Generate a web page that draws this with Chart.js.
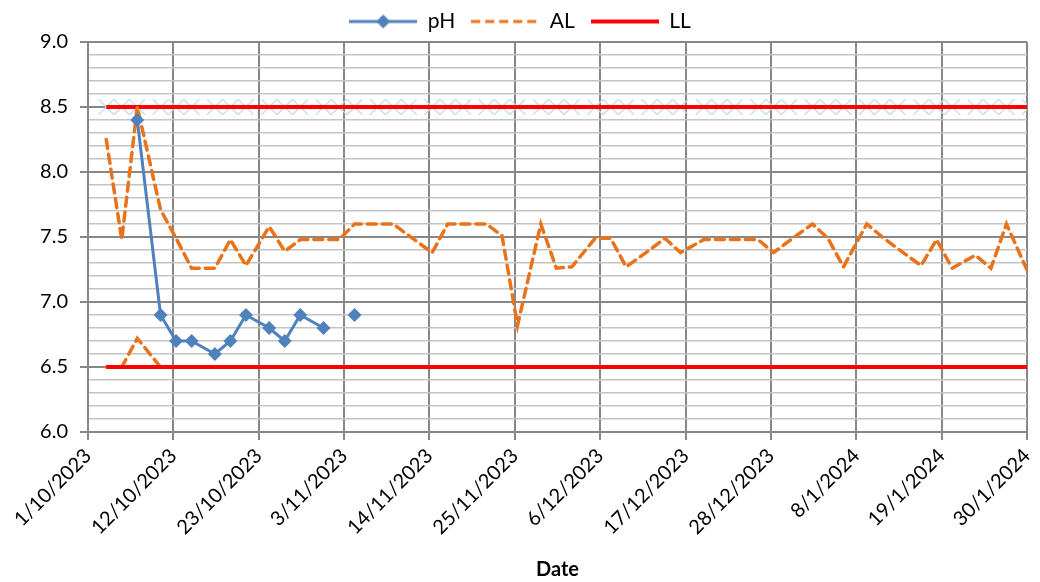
<!DOCTYPE html>
<html>
<head>
<meta charset="utf-8">
<script src="https://cdn.jsdelivr.net/npm/chart.js@4/dist/chart.umd.min.js"></script>
<style>
  html, body { margin: 0; padding: 0; background: #fff; }
  #wrap { width: 1040px; height: 582px; }
</style>
</head>
<body>
<div id="wrap"><canvas id="chart"></canvas></div>
<script>
// days counted from 1/10/2023 (Tue/Thu/Sat readings)
const startDate = Date.UTC(2023, 9, 1);

const phDays   = [6, 9, 11, 13, 16, 18, 20, 23, 25, 27, 30, 32, 34];
const phValues = [8.4, 6.9, 6.7, 6.7, 6.6, 6.7, 6.9, 6.8, 6.7, 6.9, 6.8, null, 6.9];

const alDays = [2, 4, 6, 9, 11, 13, 16, 18, 20, 23, 25, 27, 30, 32, 34, 37, 39, 41, 44, 46, 48, 51, 53, 55,
                58, 60, 62, 65, 67, 69, 72, 74, 76, 79, 81, 83, 86, 88, 90, 93, 95, 97, 100, 102, 104,
                107, 109, 111, 114, 116, 118, 121];
const alValues = [8.25, 7.48, 8.5, 7.71, 7.49, 7.26, 7.26, 7.48, 7.28, 7.58, 7.39, 7.48, 7.48, 7.48, 7.6, 7.6, 7.6, 7.51, 7.38, 7.6, 7.6, 7.6, 7.51, 6.82,
                  7.6, 7.26, 7.27, 7.49, 7.49, 7.27, 7.4, 7.49, 7.38, 7.48, 7.48, 7.48, 7.48, 7.38, 7.47, 7.6, 7.49, 7.27, 7.6, 7.5, 7.41,
                  7.28, 7.48, 7.26, 7.36, 7.26, 7.6, 7.2];

const alLowDays   = [2, 4, 6, 9];
const alLowValues = [6.5, 6.5, 6.72, 6.5];

const limitDays = [2, 121];
const lowerLimit = [6.5, 6.5];
const upperLimit = [8.5, 8.5];

const xTicks = [0, 11, 22, 33, 44, 55, 66, 77, 88, 99, 110, 121];

// Excel date axis puts points in the middle of the day
const dayShift = 0.35;
const pts = (days, vals) => days.map((d, i) => ({ x: d + dayShift, y: vals[i] }));

function fmtDate(day) {
  const d = new Date(startDate + day * 86400000);
  return d.getUTCDate() + '/' + (d.getUTCMonth() + 1) + '/' + d.getUTCFullYear();
}

const blue = '#4F81BD';
const orange = '#E8731A';
const red = '#FF0000';
const font = 'Lato, "Open Sans", sans-serif';

function legendIcon(kind) {
  const c = document.createElement('canvas');
  c.width = 68; c.height = 16;
  const g = c.getContext('2d');
  g.lineWidth = 3;
  if (kind === 'ph') {
    g.strokeStyle = blue;
    g.beginPath(); g.moveTo(0, 8); g.lineTo(68, 8); g.stroke();
    g.fillStyle = blue;
    g.beginPath(); g.moveTo(34, 1); g.lineTo(41, 8); g.lineTo(34, 15); g.lineTo(27, 8); g.closePath(); g.fill();
  } else if (kind === 'al') {
    g.strokeStyle = orange;
    g.setLineDash([9, 5]);
    g.beginPath(); g.moveTo(0, 8); g.lineTo(68, 8); g.stroke();
  } else {
    g.strokeStyle = red; g.lineWidth = 4;
    g.beginPath(); g.moveTo(0, 8); g.lineTo(68, 8); g.stroke();
  }
  return c;
}
const icons = { pH: legendIcon('ph'), AL: legendIcon('al'), LL: legendIcon('ll') };

const ctx = document.getElementById('chart').getContext('2d');
new Chart(ctx, {
  type: 'line',
  data: {
    datasets: [
      {
        label: 'pH', data: pts(phDays, phValues), order: 0,
        borderColor: blue, backgroundColor: blue, borderWidth: 3,
        pointStyle: 'rectRot', pointRadius: 7, pointBorderWidth: 0, spanGaps: false
      },
      {
        label: 'AL', data: pts(alDays, alValues), order: 1,
        borderColor: orange, borderWidth: 3.5, borderDash: [9, 6], borderCapStyle: 'round',
        pointRadius: 0
      },
      {
        label: 'AL low', data: pts(alLowDays, alLowValues), order: 3,
        borderColor: orange, borderWidth: 3.5, borderDash: [9, 6], borderCapStyle: 'round',
        pointRadius: 0
      },
      {
        label: 'LL', data: pts(limitDays, lowerLimit), order: 2,
        borderColor: red, borderWidth: 4, pointRadius: 0
      },
      {
        label: 'UL', data: pts(limitDays, upperLimit), order: 2,
        borderColor: red, borderWidth: 4, pointRadius: 0
      },
      {
        label: 'UL marks', data: pts(alDays, alDays.map(() => 8.5)), order: 4,
        showLine: false, pointStyle: 'crossRot', pointRadius: 11,
        pointBorderColor: '#bcdfeb', pointBorderWidth: 1.2, borderColor: '#bcdfeb'
      }
    ]
  },
  options: {
    responsive: true,
    maintainAspectRatio: false,
    animation: false,
    layout: { padding: { top: -5, right: 0, left: 0, bottom: 0 } },
    plugins: {
      tooltip: { enabled: false },
      legend: {
        display: true,
        position: 'top',
        labels: {
          color: '#000',
          font: { family: font, size: 21 },
          usePointStyle: true,
          pointStyleWidth: 68,
          padding: 16,
          filter: item => ['pH', 'AL', 'LL'].includes(item.text),
          generateLabels: chart => chart.data.datasets.map((ds, i) => ({
            text: ds.label, datasetIndex: i, pointStyle: icons[ds.label] || 'line',
            fontColor: '#000', hidden: false, lineWidth: 0
          }))
        }
      }
    },
    scales: {
      x: {
        type: 'linear',
        min: 0, max: 121,
        afterBuildTicks: axis => { axis.ticks = xTicks.map(v => ({ value: v })); },
        afterFit: axis => { axis.height = 150; axis.paddingRight = 13; },
        ticks: {
          color: '#000',
          font: { family: font, size: 20 },
          autoSkip: false,
          minRotation: 45, maxRotation: 45,
          padding: 4,
          callback: v => fmtDate(v)
        },
        grid: { color: '#878787', lineWidth: 2, tickLength: 8, tickColor: '#878787' },
        border: { color: '#878787', width: 2 },
        title: {
          display: true, text: 'Date', color: '#000',
          font: { family: font, size: 20, weight: 'bold' },
          padding: { top: 0, bottom: 0 }
        }
      },
      y: {
        min: 6, max: 9,
        afterFit: axis => { axis.width = 88; },
        ticks: {
          stepSize: 0.1,
          color: '#000',
          font: { family: font, size: 20 },
          padding: 12,
          autoSkip: false,
          callback: v => (Math.round(v * 10) % 5 === 0 ? v.toFixed(1) : '')
        },
        grid: {
          color: c => (Math.round(c.tick.value * 10) % 5 === 0 ? '#878787' : '#c4c4c4'),
          lineWidth: c => (Math.round(c.tick.value * 10) % 5 === 0 ? 2 : 1.5),
          tickLength: 8,
          tickColor: c => (Math.round(c.tick.value * 10) % 5 === 0 ? '#878787' : 'rgba(0,0,0,0)')
        },
        border: { color: '#878787', width: 2 }
      }
    }
  }
});
</script>
</body>
</html>
